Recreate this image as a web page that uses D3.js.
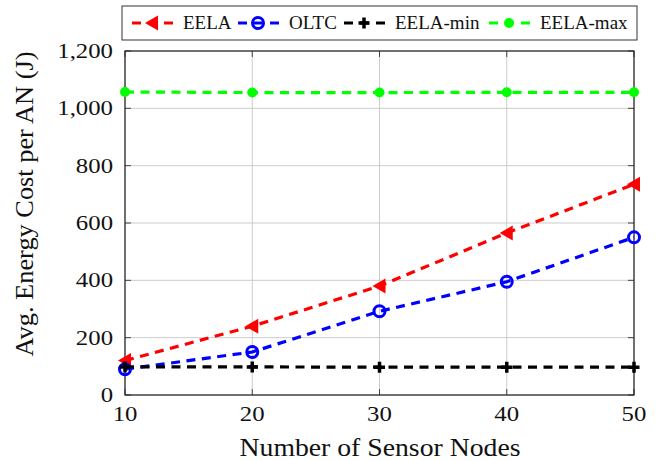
<!DOCTYPE html>
<html>
<head>
<meta charset="utf-8">
<script src="https://cdn.jsdelivr.net/npm/d3@7"></script>
<style>
  body { margin: 0; background: #fff; }
</style>
</head>
<body>
<div id="chart"></div>
<script>
// chart data
const nodes = [10, 20, 30, 40, 50];
const eela = [120, 240, 380, 565, 735];
const oltc = [90, 150, 292, 395, 550];
const eelaMin = [98, 98, 97, 97, 97];
const eelaMax = [1057, 1055, 1055, 1056, 1056];
const yTicks = [0, 200, 400, 600, 800, 1000, 1200];

const series = [
  { name: 'EELA', values: eela, color: '#ff0000', marker: 'triangle' },
  { name: 'OLTC', values: oltc, color: '#0000ff', marker: 'ring' },
  { name: 'EELA-min', values: eelaMin, color: '#000000', marker: 'plus' },
  { name: 'EELA-max', values: eelaMax, color: '#00ff00', marker: 'dot' }
];

const serif = "'Liberation Serif', 'Times New Roman', serif";
const width = 657, height = 461;
const margin = { top: 51, right: 23, bottom: 66, left: 125 };
const innerW = width - margin.left - margin.right;
const innerH = height - margin.top - margin.bottom;

const svg = d3.select('#chart').append('svg')
  .attr('width', width)
  .attr('height', height)
  .attr('font-family', serif);

const g = svg.append('g')
  .attr('transform', 'translate(' + margin.left + ',' + margin.top + ')');

const x = d3.scaleLinear().domain([10, 50]).range([0, innerW]);
const y = d3.scaleLinear().domain([0, 1200]).range([innerH, 0]);

// stretch serif text a bit so it is as wide as the reference font
function stretch(sel, k) {
  sel.each(function () {
    const w = this.getComputedTextLength();
    d3.select(this).attr('textLength', w * k).attr('lengthAdjust', 'spacingAndGlyphs');
  });
}

// grid lines
g.selectAll('.vgrid').data(nodes).enter().append('line')
  .attr('x1', d => x(d)).attr('x2', d => x(d))
  .attr('y1', 0).attr('y2', innerH)
  .attr('stroke', '#cccccc').attr('stroke-width', 1);
g.selectAll('.hgrid').data(yTicks).enter().append('line')
  .attr('x1', 0).attr('x2', innerW)
  .attr('y1', d => y(d)).attr('y2', d => y(d))
  .attr('stroke', '#cccccc').attr('stroke-width', 1);

// inward ticks on all four sides
const tickLen = 6;
g.selectAll('.tb').data(nodes).enter().append('line')
  .attr('x1', d => x(d)).attr('x2', d => x(d))
  .attr('y1', innerH).attr('y2', innerH - tickLen)
  .attr('stroke', '#444');
g.selectAll('.tt').data(nodes).enter().append('line')
  .attr('x1', d => x(d)).attr('x2', d => x(d))
  .attr('y1', 0).attr('y2', tickLen)
  .attr('stroke', '#444');
g.selectAll('.tl').data(yTicks).enter().append('line')
  .attr('x1', 0).attr('x2', tickLen)
  .attr('y1', d => y(d)).attr('y2', d => y(d))
  .attr('stroke', '#444');
g.selectAll('.tr').data(yTicks).enter().append('line')
  .attr('x1', innerW).attr('x2', innerW - tickLen)
  .attr('y1', d => y(d)).attr('y2', d => y(d))
  .attr('stroke', '#444');

// frame
g.append('rect')
  .attr('width', innerW).attr('height', innerH)
  .attr('fill', 'none').attr('stroke', '#222').attr('stroke-width', 1.2);

// tick labels
g.selectAll('.xl').data(nodes).enter().append('text')
  .attr('x', d => x(d)).attr('y', innerH + 26)
  .attr('text-anchor', 'middle')
  .style('font-family', serif)
  .style('font-size', '21px')
  .attr('fill', '#111')
  .text(d => d)
  .call(stretch, 1.18);
g.selectAll('.yl').data(yTicks).enter().append('text')
  .attr('x', -12).attr('y', d => y(d))
  .attr('dy', '0.33em')
  .attr('text-anchor', 'end')
  .style('font-family', serif)
  .style('font-size', '21px')
  .attr('fill', '#111')
  .text(d => d3.format(',')(d))
  .call(stretch, 1.18);

// axis titles
svg.append('text')
  .attr('x', 380).attr('y', 456)
  .attr('text-anchor', 'middle')
  .style('font-family', serif)
  .style('font-size', '25px')
  .attr('fill', '#111')
  .attr('textLength', 281).attr('lengthAdjust', 'spacingAndGlyphs')
  .text('Number of Sensor Nodes');
svg.append('text')
  .attr('transform', 'translate(33,204) rotate(-90)')
  .attr('text-anchor', 'middle')
  .style('font-family', serif)
  .style('font-size', '25px')
  .attr('fill', '#111')
  .attr('textLength', 305).attr('lengthAdjust', 'spacingAndGlyphs')
  .text('Avg. Energy Cost per AN (J)');

// markers
function drawMarker(sel, type, color) {
  if (type === 'triangle') {
    sel.append('path').attr('d', 'M-7,0 L6,-7.5 L6,7.5 Z').attr('fill', color);
  } else if (type === 'ring') {
    sel.append('circle').attr('r', 5.5).attr('fill', 'none')
      .attr('stroke', color).attr('stroke-width', 3);
  } else if (type === 'plus') {
    sel.append('path').attr('d', 'M-5.5,0 H5.5 M0,-5.5 V5.5')
      .attr('stroke', color).attr('stroke-width', 3.5);
  } else {
    sel.append('circle').attr('r', 5).attr('fill', color);
  }
}

const line = d3.line().x((d, i) => x(nodes[i])).y(d => y(d));

series.forEach(s => {
  g.append('path')
    .datum(s.values)
    .attr('d', line)
    .attr('fill', 'none')
    .attr('stroke', s.color)
    .attr('stroke-width', 3.2)
    .attr('stroke-dasharray', '9,6.5');
  s.values.forEach((v, i) => {
    const m = g.append('g').attr('transform', 'translate(' + x(nodes[i]) + ',' + y(v) + ')');
    drawMarker(m, s.marker, s.color);
  });
});

// legend
const legend = svg.append('g');
legend.append('rect')
  .attr('x', 122).attr('y', 6).attr('width', 515).attr('height', 34)
  .attr('fill', '#fff').attr('stroke', '#333').attr('stroke-width', 1);
const legendX = [132, 238, 344, 489];
series.forEach((s, i) => {
  const lx = legendX[i], ly = 23;
  legend.append('line')
    .attr('x1', lx).attr('x2', lx + 41)
    .attr('y1', ly).attr('y2', ly)
    .attr('stroke', s.color).attr('stroke-width', 3.2)
    .attr('stroke-dasharray', '9,7');
  const m = legend.append('g').attr('transform', 'translate(' + (lx + 20) + ',' + ly + ')');
  drawMarker(m, s.marker, s.color);
  legend.append('text')
    .attr('x', lx + 51).attr('y', ly)
    .attr('dy', '0.33em')
    .style('font-family', serif)
    .style('font-size', '19px')
    .attr('fill', '#111')
    .text(s.name);
});
</script>
</body>
</html>
